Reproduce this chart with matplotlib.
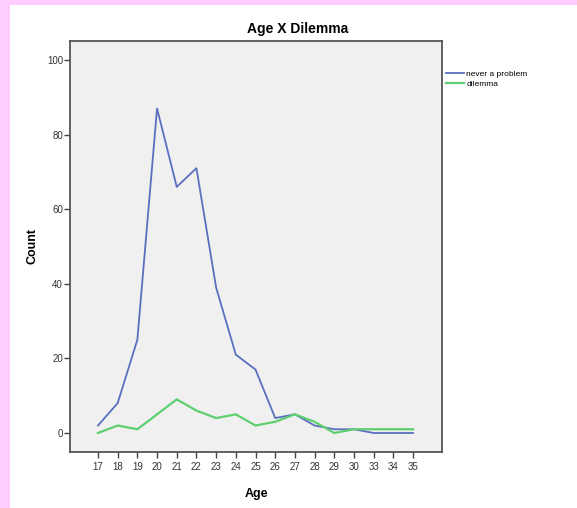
import matplotlib
matplotlib.use("Agg")
import matplotlib.pyplot as plt
from matplotlib.patches import Rectangle

plt.rcParams['font.family'] = ['Liberation Sans', 'DejaVu Sans']

ages = ['17', '18', '19', '20', '21', '22', '23', '24', '25', '26', '27', '28',
        '29', '30', '33', '34', '35']
never_a_problem = [2, 8, 25, 87, 66, 71, 39, 21, 17, 4, 5, 2, 1, 1, 0, 0, 0]
dilemma = [0, 2, 1, 5, 9, 6, 4, 5, 2, 3, 5, 3, 0, 1, 1, 1, 1]

fig = plt.figure(figsize=(5.77, 5.08), dpi=100)
fig.patch.set_facecolor('#ffccff')
# white panel inside the pink border
fig.add_artist(Rectangle((10/577, 0), 1, 1 - 5/508, transform=fig.transFigure,
                         facecolor='white', edgecolor='none', zorder=-5))

ax = fig.add_axes([70/577, 1 - 452/508, 372/577, 411/508])
ax.set_zorder(2)
ax.set_facecolor('#f0f0f0')

x = list(range(len(ages)))
ax.plot(x, never_a_problem, color='#5a6fbf', lw=1.3, label='never a problem')
ax.plot(x, dilemma, color='#5ecf70', lw=1.6, label='dilemma')

ax.set_xlim(-1.42, 17.47)
ax.set_ylim(-5.1, 105.1)
ax.set_xticks(x)
ax.set_xticklabels(ages, color='#333333')
ax.set_yticks([0, 20, 40, 60, 80, 100])
ax.tick_params(axis='both', length=4, width=1, color='#444444', labelsize=7,
               labelcolor='#333333', pad=1)
ax.tick_params(axis='x', pad=3)
for s in ax.spines.values():
    s.set_color('#555555')
    s.set_linewidth(1.3)

ax.set_ylabel('Count', fontsize=9, fontweight='bold', labelpad=6)
ax.set_xlabel('Age', fontsize=9, fontweight='bold', labelpad=12)
fig.text(298/577, 1 - 29/508, 'Age X Dilemma', ha='center', va='center',
         fontsize=10, fontweight='bold')

ax.legend(loc='upper left', bbox_to_anchor=(1.0, 0.94), frameon=False,
          fontsize=6, handlelength=2.2, handletextpad=0.2, labelspacing=0.35,
          borderaxespad=0.1)

fig.savefig('out.png', dpi=100, facecolor=fig.get_facecolor())
